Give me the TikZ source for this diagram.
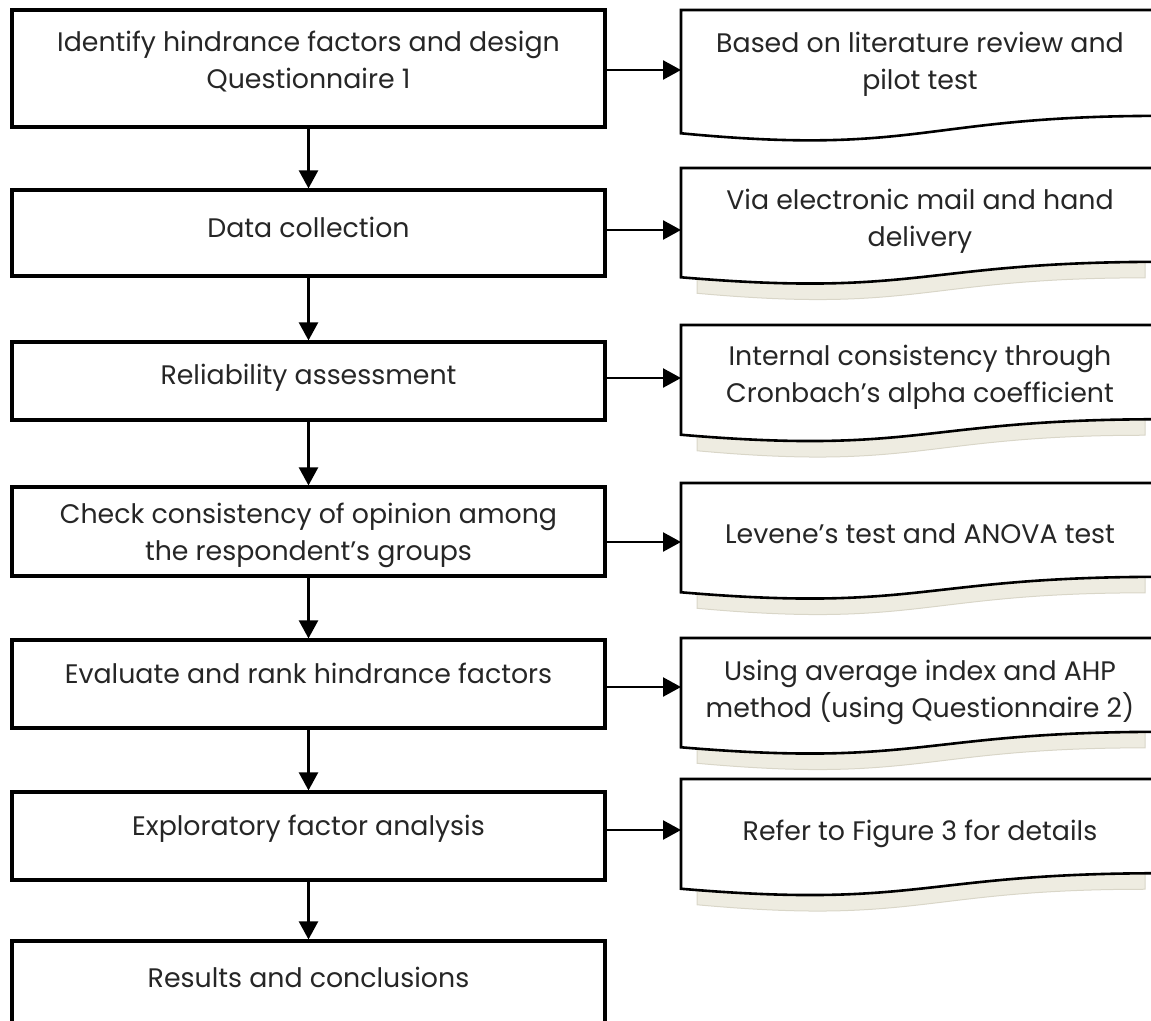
\documentclass[tikz,border=0pt]{standalone}
\IfFileExists{tgadventor.sty}{%
  \usepackage[T1]{fontenc}%
  \usepackage{tgadventor}%
  \renewcommand{\familydefault}{\sfdefault}%
}{%
  \usepackage{fontspec}%
  \setmainfont{Poppins}%
}
\usetikzlibrary{arrows.meta}

\definecolor{ink}{HTML}{262626}
\definecolor{shadowfill}{HTML}{EEECE1}
\definecolor{shadowline}{HTML}{D9D6C8}

\tikzset{
  stepbox/.style={draw=black, line width=3.2pt, minimum width=593pt,
    inner sep=0pt, fill=white},
  boxtext/.style={text=ink, font=\fontsize{26.8}{37}\selectfont,
    align=center, inner sep=0pt},
  arr/.style={line width=2.4pt, -{Triangle[length=18pt,width=19pt]}},
  docline/.style={draw=black, line width=2.6pt, fill=white, line join=miter},
  docshadow/.style={fill=shadowfill, draw=shadowline, line width=1pt},
}

% document shape: #1 = top, #2 = height
\newcommand\flowdoc[2]{%
  \draw[docline] (681,#1) -- (1160,#1) -- (1160,{#1+0.802*#2})
    .. controls (920.5,{#1+0.802*#2}) and (920.5,{#1+1.108*#2})
    .. (681,{#1+0.934*#2}) -- cycle;}
% its soft shadow underneath
\newcommand\flowshadow[2]{%
  \draw[docshadow] (697,{#1+16}) -- (1145,{#1+16}) -- (1145,{#1+0.802*#2+16})
    .. controls (921,{#1+0.802*#2+16}) and (921,{#1+1.108*#2+16})
    .. (697,{#1+0.934*#2+16}) -- cycle;}

\begin{document}
\begin{tikzpicture}[x=1pt, y=-1pt]
  \useasboundingbox (0,0) rectangle (1151,1020);
  \clip (0,0) rectangle (1151,1020);

  % process steps
  \node[stepbox, minimum height=117pt] (b1) at (308.5,68.5) {};
  \node[stepbox, minimum height=86pt]  (b2) at (308.5,233) {};
  \node[stepbox, minimum height=78pt]  (b3) at (308.5,381) {};
  \node[stepbox, minimum height=89pt]  (b4) at (308.5,531.5) {};
  \node[stepbox, minimum height=88pt]  (b5) at (308.5,684) {};
  \node[stepbox, minimum height=88pt]  (b6) at (308.5,836) {};
  \node[stepbox, minimum height=88pt]  (b7) at (308.5,985) {};

  \node[boxtext] (t1) at (308.5,62) {Identify hindrance factors and design\\Questionnaire 1};
  \node[boxtext] (t2) at (308.5,227) {Data collection};
  \node[boxtext] (t3) at (308.5,377.5) {Reliability assessment};
  \node[boxtext] (t4) at (308.5,535) {Check consistency of opinion among\\the respondent's groups};
  \node[boxtext] (t5) at (308.5,673) {Evaluate and rank hindrance factors};
  \node[boxtext] (t6) at (308.5,828.5) {Exploratory factor analysis};
  \node[boxtext] (t7) at (308.5,977) {Results and conclusions};

  % notes (document shapes)
  \flowdoc{10}{132}
  \flowshadow{168}{117}  \flowdoc{168}{117}
  \flowshadow{325}{117.5}\flowdoc{325}{117.5}
  \flowshadow{483}{117}  \flowdoc{483}{117}
  \flowshadow{638}{117}  \flowdoc{638}{117}
  \flowshadow{779}{117.5}\flowdoc{779}{117.5}

  \node[boxtext] (d1) at (920,64) {Based on literature review and\\pilot test};
  \node[boxtext] (d2) at (920,221.5) {Via electronic mail and hand\\delivery};
  \node[boxtext] (d3) at (920,377.5) {Internal consistency through\\Cronbach's alpha coefficient};
  \node[boxtext] (d4) at (920,534) {Levene's test and ANOVA test};
  \node[boxtext] (d5) at (920,692) {Using average index and AHP\\method (using Questionnaire 2)};
  \node[boxtext] (d6) at (920,834) {Refer to Figure 3 for details};

  % arrow end points on the notes' left edges
  \coordinate (a1) at (681,70);
  \coordinate (a2) at (681,230);
  \coordinate (a3) at (681,378);
  \coordinate (a4) at (681,542);
  \coordinate (a5) at (681,687);
  \coordinate (a6) at (681,830);

  % flow
  \draw[arr] (b1.south) -- (b2.north);
  \draw[arr] (b2.south) -- (b3.north);
  \draw[arr] (b3.south) -- (b4.north);
  \draw[arr] (b4.south) -- (b5.north);
  \draw[arr] (b5.south) -- (b6.north);
  \draw[arr] (b6.south) -- (b7.north);

  \draw[arr] (b1.east |- a1) -- (a1);
  \draw[arr] (b2.east |- a2) -- (a2);
  \draw[arr] (b3.east |- a3) -- (a3);
  \draw[arr] (b4.east |- a4) -- (a4);
  \draw[arr] (b5.east |- a5) -- (a5);
  \draw[arr] (b6.east |- a6) -- (a6);
\end{tikzpicture}
\end{document}
